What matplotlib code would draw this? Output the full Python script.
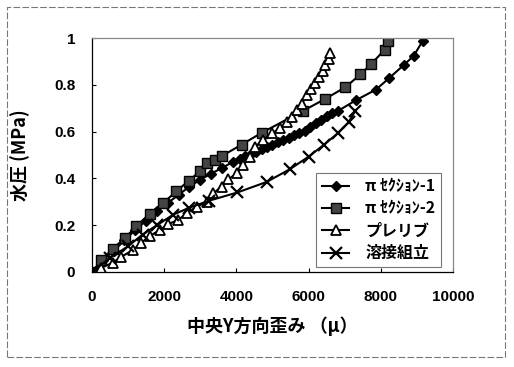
import matplotlib
matplotlib.use("Agg")
import matplotlib.pyplot as plt
from matplotlib.patches import Rectangle

plt.rcParams['font.family'] = ['Noto Sans CJK JP', 'DejaVu Sans']

# π セクション-1 (diamonds)
x_pi1 = [0, 300, 600, 900, 1200, 1500, 1800, 2100, 2400, 2700, 3000, 3300, 3600, 3900,
         4100, 4250, 4400, 4550, 4700, 4850, 5000, 5150, 5300, 5450, 5600, 5750, 5900,
         6050, 6200, 6350, 6500, 6650, 6830, 7320, 7870, 8240, 8640, 8920, 9170]
y_pi1 = [0, 0.05, 0.09, 0.135, 0.18, 0.22, 0.26, 0.295, 0.33, 0.365, 0.395, 0.42, 0.445, 0.47,
         0.485, 0.495, 0.505, 0.515, 0.525, 0.535, 0.545, 0.555, 0.565, 0.575, 0.585, 0.595, 0.605,
         0.62, 0.635, 0.65, 0.665, 0.68, 0.69, 0.735, 0.78, 0.83, 0.885, 0.925, 0.99]

# π セクション-2 (squares)
x_pi2 = [0, 260, 580, 910, 1230, 1600, 1970, 2340, 2680, 2990, 3180, 3400, 3590,
         4150, 4700, 5860, 6460, 7020, 7440, 7740, 8110, 8200]
y_pi2 = [0, 0.05, 0.1, 0.145, 0.195, 0.25, 0.295, 0.345, 0.39, 0.43, 0.465, 0.48, 0.495,
         0.545, 0.595, 0.69, 0.74, 0.79, 0.845, 0.89, 0.95, 0.99]

# プレリブ (triangles)
x_prerib = [0, 250, 580, 815, 1140, 1370, 1600, 1880, 2110, 2390, 2620, 2900, 3180, 3360,
            3590, 3780, 4010, 4190, 4380, 4520, 4750, 4980, 5210, 5400, 5540, 5680, 5815,
            5950, 6070, 6190, 6300, 6390, 6460, 6560, 6600]
y_prerib = [0, 0.017, 0.04, 0.065, 0.094, 0.125, 0.154, 0.179, 0.205, 0.222, 0.251, 0.279, 0.3, 0.336,
            0.365, 0.396, 0.422, 0.457, 0.493, 0.536, 0.564, 0.593, 0.614, 0.642, 0.664, 0.692, 0.72,
            0.756, 0.781, 0.809, 0.835, 0.86, 0.885, 0.913, 0.937]

# 溶接組立 (crosses)
x_weld = [0, 500, 1000, 1400, 1800, 2250, 2700, 3250, 4030, 4840, 5490, 6000, 6420, 6810, 7110, 7300]
y_weld = [0, 0.06, 0.11, 0.16, 0.2, 0.245, 0.275, 0.305, 0.34, 0.385, 0.44, 0.493, 0.543, 0.593, 0.64, 0.69]

labels = ['π ｾｸｼｮﾝ-1', 'π ｾｸｼｮﾝ-2', 'プレリブ', '溶接組立']

fig = plt.figure(figsize=(5.14, 3.67), dpi=100)
fig.patches.append(Rectangle((0.014, 0.027), 0.968, 0.953, transform=fig.transFigure,
                             fill=False, edgecolor='#777777', linewidth=0.8, linestyle=(0, (6, 2))))
ax = fig.add_axes([0.179, 0.259, 0.702, 0.637])

ax.plot(x_pi1, y_pi1, color='black', lw=1.5, marker='D', ms=5, mfc='black', mec='black', label=labels[0])
ax.plot(x_pi2, y_pi2, color='black', lw=1.5, marker='s', ms=6.5, mfc='#444444', mec='black', label=labels[1])
ax.plot(x_prerib, y_prerib, color='black', lw=1.5, marker='^', ms=6.5, mfc='white', mec='black', mew=1.3, label=labels[2])
ax.plot(x_weld, y_weld, color='black', lw=1.5, marker='x', ms=8, mew=1.6, label=labels[3])

ax.set_xlim(0, 10000)
ax.set_ylim(0, 1)
ax.set_xticks([0, 2000, 4000, 6000, 8000, 10000])
ax.set_yticks([0, 0.2, 0.4, 0.6, 0.8, 1])
ax.set_yticklabels(['0', '0.2', '0.4', '0.6', '0.8', '1'])
ax.tick_params(direction='in', length=3)
ax.tick_params(axis='x', pad=13)
ax.tick_params(axis='y', pad=12)
for lab in ax.get_xticklabels() + ax.get_yticklabels():
    lab.set_fontweight('bold')
    lab.set_family(['Liberation Sans', 'DejaVu Sans'])
    lab.set_fontsize(11)
for s in ax.spines.values():
    s.set_color('#888888')
    s.set_linewidth(0.9)
ax.spines['left'].set_color('black')
ax.spines['bottom'].set_color('black')

ax.set_xlabel('中央Y方向歪み （μ）', fontsize=13, fontweight='bold', labelpad=9)
ax.set_ylabel('水圧 (MPa)', fontsize=13, fontweight='bold', labelpad=17)

leg = ax.legend(loc='lower right', bbox_to_anchor=(0.967, 0.021), fontsize=11.5, frameon=True,
                fancybox=False, edgecolor='#555555', borderpad=0.35, labelspacing=0.4,
                handlelength=1.7, handletextpad=1.0, borderaxespad=0)
leg.get_frame().set_linewidth(0.8)
for t in leg.get_texts():
    t.set_fontweight('bold')

fig.savefig('out.png', dpi=100)
